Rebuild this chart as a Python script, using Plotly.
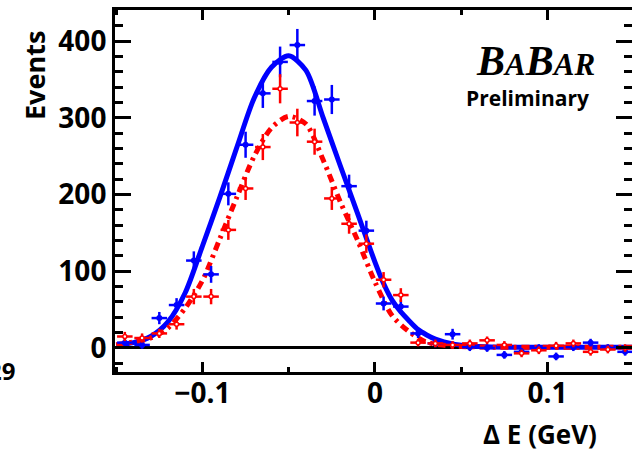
import plotly.graph_objects as go

# ---- data ----
bin_centers = [-0.145, -0.135, -0.125, -0.115, -0.105, -0.095, -0.085, -0.075, -0.065, -0.055,
               -0.045, -0.035, -0.025, -0.015, -0.005, 0.005, 0.015, 0.025, 0.035, 0.045,
               0.055, 0.065, 0.075, 0.085, 0.095, 0.105, 0.115, 0.125, 0.135, 0.145]

blue_counts = [7, 4, 39, 56, 114, 96, 201, 265, 332, 373,
               395, 322, 324, 211, 153, 58, 54, 19, 6, 18,
               1, 0, -9, -5, 0, -11, 1, 7, 0, -5]
blue_errors = [6, 5, 8, 9, 12, 11, 15, 17, 19, 20,
               21, 19, 19, 15, 13, 9, 9, 6, 5, 7,
               5, 5, 5, 5, 5, 5, 5, 5, 5, 5]

red_counts = [15, 13, 19, 31, 67, 67, 154, 208, 262, 338,
              294, 269, 195, 162, 136, 89, 69, 7, 6, 4,
              6, 10, 4, -7, -3, 3, 6, -5, -2, 0]
red_errors = [6, 6, 6, 7, 10, 10, 13, 15, 17, 19,
              18, 17, 15, 13, 12, 10, 9, 5, 5, 5,
              5, 5, 5, 5, 5, 5, 5, 5, 5, 5]

bin_half_width = 0.0045

blue_fit_x = [-0.150, -0.140, -0.130, -0.120, -0.110, -0.100, -0.090, -0.080, -0.070, -0.060,
              -0.050, -0.040, -0.030, -0.020, -0.010, 0.000, 0.005, 0.010, 0.015, 0.020,
              0.025, 0.030, 0.035, 0.040, 0.050, 0.060, 0.080, 0.150]
blue_fit_y = [4, 7, 15, 34, 72, 133, 196, 262, 326, 366,
              381, 362, 300, 237, 175, 112, 84, 62, 47, 35,
              24, 17, 11.5, 8, 3.5, 2, 1, 1]

red_fit_x = [-0.150, -0.140, -0.130, -0.120, -0.110, -0.100, -0.090, -0.080, -0.070, -0.060,
             -0.050, -0.040, -0.030, -0.020, -0.010, 0.000, 0.010, 0.020, 0.030, 0.040,
             0.050, 0.070, 0.150]
red_fit_y = [4, 8, 13, 26, 52, 88, 142, 197, 250, 287,
             302, 292, 245, 190, 140, 86, 42, 21, 7.5, 3.5,
             2, 1, 1]

x_tick_vals = [-0.1, 0, 0.1]
x_tick_text = ["\u22120.1", "0", "0.1"]
y_tick_vals = [0, 100, 200, 300, 400]
y_tick_text = ["0", "100", "200", "300", "400"]

x_range = [-0.1507, 0.149]
y_range = [-31.3, 440.7]

# ---- figure ----
FONT = "Open Sans"
fig = go.Figure()

fig.add_trace(go.Scatter(x=blue_fit_x, y=blue_fit_y, mode="lines",
                         line=dict(color="#0000ff", width=5, shape="spline", smoothing=0.8),
                         hoverinfo="skip", showlegend=False))
fig.add_trace(go.Scatter(x=red_fit_x, y=red_fit_y, mode="lines",
                         line=dict(color="#ff0000", width=5, shape="spline", smoothing=0.8,
                                   dash="8px,5px,3px,5px"),
                         hoverinfo="skip", showlegend=False))
fig.add_trace(go.Scatter(x=bin_centers, y=blue_counts, mode="markers",
                         marker=dict(color="#0000ff", size=6, symbol="circle"),
                         error_y=dict(type="data", array=blue_errors, color="#0000ff",
                                      thickness=2.5, width=0),
                         error_x=dict(type="constant", value=bin_half_width, color="#0000ff",
                                      thickness=2.5, width=0),
                         showlegend=False))
fig.add_trace(go.Scatter(x=bin_centers, y=red_counts, mode="markers",
                         marker=dict(color="white", size=4, symbol="circle",
                                     line=dict(color="#ff0000", width=1.5)),
                         error_y=dict(type="data", array=red_errors, color="#ff0000",
                                      thickness=2.5, width=0),
                         error_x=dict(type="constant", value=bin_half_width, color="#ff0000",
                                      thickness=2.5, width=0),
                         showlegend=False))
# empty trace to carry the right-hand mirrored axis
fig.add_trace(go.Scatter(x=[None], y=[None], yaxis="y2", showlegend=False, hoverinfo="skip"))

tickfont = dict(family=FONT, size=28, color="black", weight="bold")

fig.update_layout(
    width=632, height=451,
    margin=dict(l=115, r=0, t=10, b=79),
    paper_bgcolor="white", plot_bgcolor="white",
    showlegend=False,
    xaxis=dict(range=x_range, showgrid=False, zeroline=False,
               showline=True, linecolor="black", linewidth=3, mirror="ticks",
               ticks="inside", ticklen=10, tickwidth=3, tickcolor="black",
               tickmode="array", tickvals=x_tick_vals, ticktext=x_tick_text,
               minor=dict(ticks="inside", ticklen=5, tickwidth=3, tickcolor="black",
                          tickmode="linear", dtick=0.05, tick0=0),
               tickfont=tickfont, ticklabelstandoff=-6),
    yaxis=dict(range=y_range, showgrid=False,
               zeroline=True, zerolinecolor="black", zerolinewidth=2.5,
               showline=True, linecolor="black", linewidth=3,
               ticks="inside", ticklen=16, tickwidth=3, tickcolor="black",
               tickmode="array", tickvals=y_tick_vals, ticktext=y_tick_text,
               minor=dict(ticks="inside", ticklen=8, tickwidth=3, tickcolor="black",
                          tickmode="linear", dtick=20, tick0=0),
               tickfont=tickfont),
    yaxis2=dict(range=y_range, overlaying="y", side="right", anchor="x",
                showgrid=False, zeroline=False, showline=False, showticklabels=False,
                ticks="inside", ticklen=16, tickwidth=3, tickcolor="black",
                tickmode="array", tickvals=y_tick_vals,
                minor=dict(ticks="inside", ticklen=8, tickwidth=3, tickcolor="black",
                           tickmode="linear", dtick=20, tick0=0)),
)

annots = [
    dict(text="Events", x=-0.1547, y=0.8177, textangle=-90,
         font=dict(family=FONT, size=27, color="black", weight="bold")),
    dict(text="\u0394 E (GeV)", x=0.822, y=-0.172,
         font=dict(family=FONT, size=26, color="black", weight="bold")),
    dict(text="<b><i>B<span style='font-size:31px'>A</span>B<span style='font-size:31px'>AR</span></i></b>",
         x=0.8143, y=0.858,
         font=dict(family="Liberation Serif", size=42, color="black")),
    dict(text="Preliminary", x=0.7988, y=0.758,
         font=dict(family=FONT, size=21, color="black", weight="bold")),
    dict(text="29", x=-0.1896, y=0.0055, xanchor="right",
         font=dict(family=FONT, size=24, color="black", weight="bold")),
]
for a in annots:
    a.setdefault("xanchor", "center")
    a.setdefault("yanchor", "middle")
    fig.add_annotation(xref="paper", yref="paper", showarrow=False, **a)

fig.write_html("out.html")
